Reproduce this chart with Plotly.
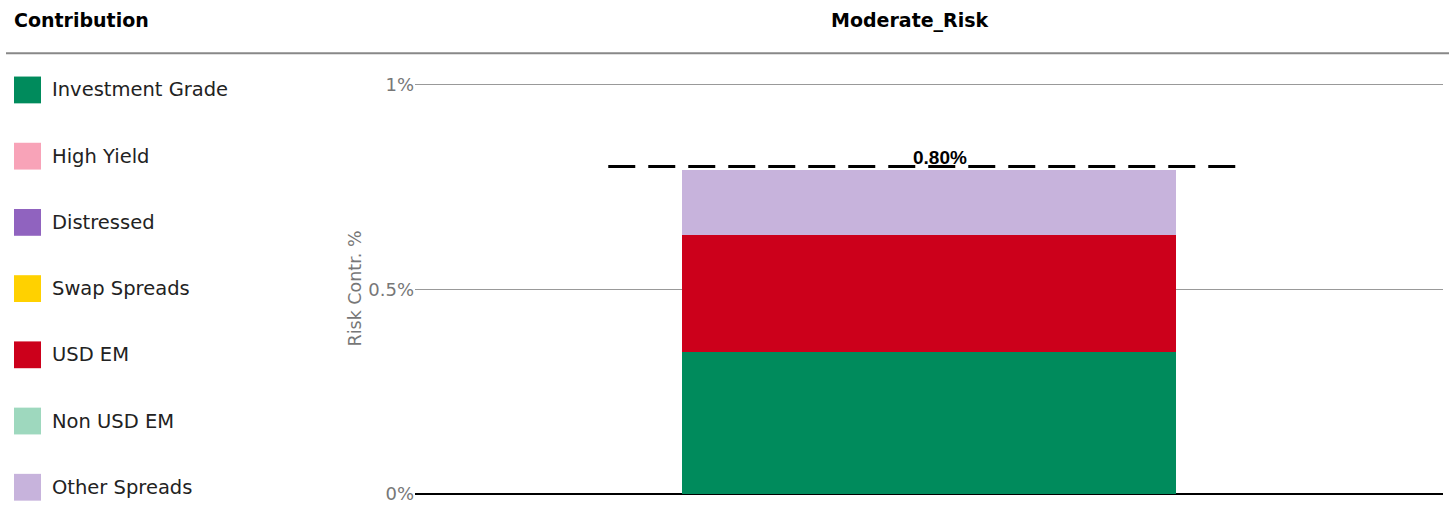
import plotly.graph_objects as go

# data
categories = ["Investment Grade", "High Yield", "Distressed", "Swap Spreads",
              "USD EM", "Non USD EM", "Other Spreads"]
colors = ["#008B5C", "#F8A3B8", "#9063BF", "#FFD100", "#CC001B", "#9ED8BE", "#C7B3DC"]
portfolio = ["Moderate_Risk"]
risk_contr = [0.348, 0.0, 0.0, 0.0, 0.285, 0.0, 0.159]
total_label = 0.80
y_ticks = [0, 0.5, 1]
y_tick_text = ["0%", "0.5%", "1%"]

W, H = 1449, 510
L, R, T, B = 415, 6, 83, 13
FONT = "DejaVu Sans"

fig = go.Figure()
for name, col, val in zip(categories, colors, risk_contr):
    fig.add_trace(go.Bar(x=portfolio, y=[val], name=name, marker_color=col,
                         marker_line_width=0, width=0.48, showlegend=False))

# dashed total line + label
fig.add_trace(go.Scatter(x=[-0.312, 0.30], y=[total_label, total_label], mode="lines",
                         line=dict(color="black", width=3, dash="27px,13px"),
                         xaxis="x2", showlegend=False, hoverinfo="skip"))
fig.add_annotation(x=0.0107, y=total_label, xref="x2", yref="y", text=f"<b>{total_label:.2f}%</b>",
                   showarrow=False, yanchor="bottom", yshift=-3,
                   font=dict(family="Liberation Sans", size=19, color="black"))

fig.update_layout(
    width=W, height=H,
    plot_bgcolor="white", paper_bgcolor="white",
    margin=dict(l=L, r=R, t=T, b=B),
    barmode="stack",
    font=dict(family=FONT, color="#222"),
    xaxis=dict(showticklabels=False, showgrid=False, zeroline=False, range=[-0.5, 0.5],
               showline=False),
    xaxis2=dict(overlaying="x", range=[-0.5, 0.5], visible=False),
    yaxis=dict(range=[0, 1.004], tickvals=y_ticks, ticktext=y_tick_text,
               tickfont=dict(size=18, color="#777"), ticklabelstandoff=0,
               showgrid=True, gridcolor="#999", gridwidth=1,
               zeroline=True, zerolinecolor="black", zerolinewidth=1.5),
)


def px2paper(x, y):
    # pixel coords -> paper coords
    return (x - L) / (W - L - R), (H - B - y) / (H - T - B)


def add_text(x, y, text, size, color, xanchor="left", angle=0):
    px_, py_ = px2paper(x, y)
    fig.add_annotation(x=px_, y=py_, xref="paper", yref="paper", text=text,
                       showarrow=False, xanchor=xanchor, yanchor="middle",
                       textangle=angle, font=dict(size=size, color=color))


def add_rect(x0, y0, x1, y1, col):
    a0, b0 = px2paper(x0, y0)
    a1, b1 = px2paper(x1, y1)
    fig.add_shape(type="rect", xref="paper", yref="paper", x0=a0, x1=a1, y0=b0, y1=b1,
                  fillcolor=col, line_width=0)


# headers
add_text(12, 20, "<b>Contribution</b>", 19, "black")
add_text(910, 20, "<b>Moderate_Risk</b>", 19, "black", xanchor="center")
add_text(354, 290, "Risk Contr. %", 17.5, "#777", xanchor="center", angle=-90)
a0, b0 = px2paper(6, 53)
a1, _ = px2paper(W, 53)
fig.add_shape(type="line", xref="paper", yref="paper", x0=a0, x1=a1, y0=b0, y1=b0,
              line=dict(color="#888", width=2))

# custom legend
for i, (name, col) in enumerate(zip(categories, colors)):
    yc = 90 + i * 66.7
    add_rect(14, yc - 13.5, 41, yc + 13.5, col)
    add_text(50, yc, name, 19.5, "#222")

# drop the default body margin / inline gap so the figure fills the window exactly
page_fix = """
var d = document.getElementById('{plot_id}');
d.style.display = 'block';
d.parentElement.style.display = 'block';
d.parentElement.style.height = '510px';
d.parentElement.style.overflow = 'hidden';
document.documentElement.style.margin = '0';
document.documentElement.style.overflow = 'hidden';
document.documentElement.style.height = '510px';
document.body.style.margin = '0';
document.body.style.height = '510px';
document.body.style.overflow = 'hidden';
"""
fig.write_html("out.html", post_script=page_fix, config={"displayModeBar": False})
